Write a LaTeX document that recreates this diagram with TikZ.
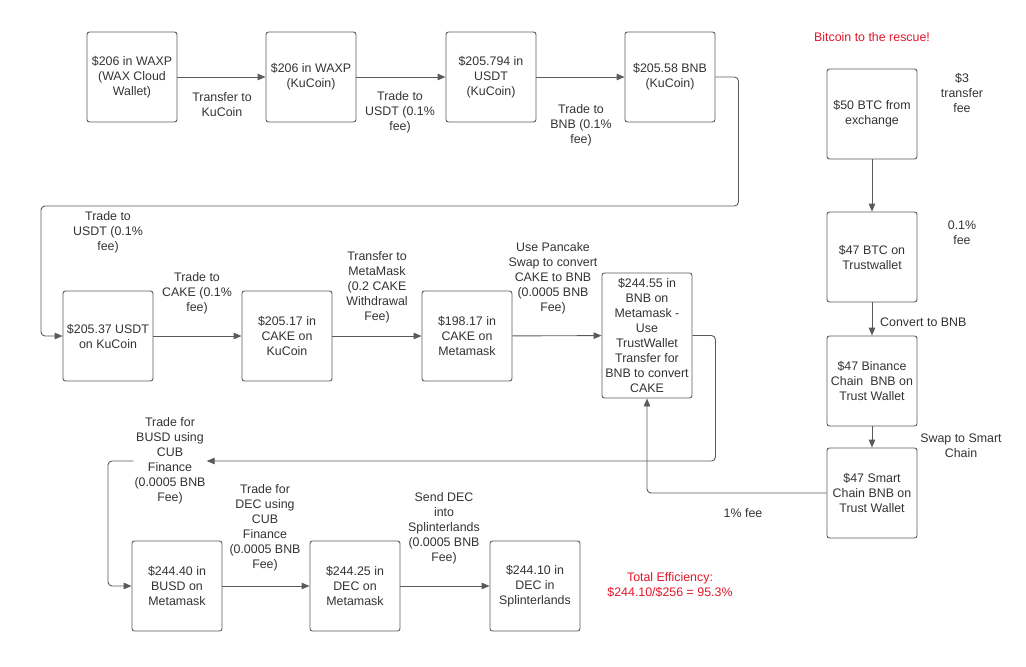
\documentclass[tikz,border=0pt]{standalone}
\usepackage{fontspec}
\setmainfont{Liberation Sans}
\usetikzlibrary{arrows.meta}

\definecolor{inkgray}{HTML}{333333}
\definecolor{linegray}{HTML}{5A5A5A}
\definecolor{alertred}{HTML}{E3162B}

\tikzset{
  box/.style={draw=linegray, line width=0.9pt, rounded corners=2.5pt, minimum width=90pt,
    minimum height=90pt, align=center, text=inkgray, inner sep=0pt},
  tall/.style={minimum height=125pt},
  lbl/.style={align=center, text=inkgray, inner sep=1pt},
  redlbl/.style={align=center, text=alertred, inner sep=1pt},
  conn/.style={draw=linegray, line width=0.9pt, rounded corners=4pt,
    -{Triangle[length=8pt,width=6.5pt]}},
  plain/.style={draw=linegray, line width=0.9pt, rounded corners=4pt}
}

\begin{document}
\begin{tikzpicture}[x=1pt, y=-1pt, font=\fontsize{12.4}{15}\selectfont]
    % keep the page the size of the picture
    \useasboundingbox (0,0) rectangle (1026,667);

    % Top row: WAXP to BNB on KuCoin
    \node[box] (waxc) at (132,77) {\$206 in WAXP\\(WAX Cloud\\Wallet)};
    \node[box] (waxk) at (311,77) {\$206 in WAXP\\(KuCoin)};
    \node[box] (usdtk1) at (491,77) {\$205.794 in\\USDT\\(KuCoin)};
    \node[box] (bnbk) at (670,77) {\$205.58 BNB\\(KuCoin)};

    % Middle row: back to USDT, then CAKE
    \node[box] (usdtk) at (108,336) {\$205.37 USDT\\on KuCoin};
    \node[box] (cakek) at (287,336) {\$205.17 in\\CAKE on\\KuCoin};
    \node[box] (cakem) at (467,336) {\$198.17 in\\CAKE on\\Metamask};
    \node[box, tall] (bnbcm) at (647,335.5) {\$244.55 in\\BNB on\\Metamask -\\Use\\TrustWallet\\Transfer for\\BNB to convert\\CAKE};

    % Bottom row: BUSD and DEC
    \node[box] (busd) at (177,586) {\$244.40 in\\BUSD on\\Metamask};
    \node[box] (decm) at (355,586) {\$244.25 in\\DEC on\\Metamask};
    \node[box] (decs) at (535,586) {\$244.10 in\\DEC in\\Splinterlands};

    % Right column: the bitcoin detour
    \node[box] (btc) at (872,114) {\$50 BTC from\\exchange};
    \node[box] (trustbtc) at (872,257) {\$47 BTC on\\Trustwallet};
    \node[box] (bnbtw) at (872,381) {\$47 Binance\\Chain\ \ BNB on\\Trust Wallet};
    \node[box] (smart) at (872,493) {\$47 Smart\\Chain BNB on\\Trust Wallet};

    % Connector labels
    \node[lbl] (lblkucoin) at (222,104.5) {Transfer to\\KuCoin};
    \node[lbl] (lblusdt) at (400,112.5) {Trade to\\USDT (0.1\%\\fee)};
    \node[lbl] (lblbnb) at (581,125) {Trade to\\BNB (0.1\%\\fee)};
    \node[lbl] (lblusdtb) at (108,232) {Trade to\\USDT (0.1\%\\fee)};
    \node[lbl] (lblcake) at (197,293.5) {Trade to\\CAKE (0.1\%\\fee)};
    \node[lbl] (lblmeta) at (377,287) {Transfer to\\MetaMask\\(0.2 CAKE\\Withdrawal\\Fee)};
    \node[lbl] (lblswap) at (553,278.5) {Use Pancake\\Swap to convert\\CAKE to BNB\\(0.0005 BNB\\Fee)};
    \node[lbl] (busdlbl) at (170,461) {Trade for\\BUSD using\\CUB\\Finance\\(0.0005 BNB\\Fee)};
    \node[lbl] (lbldec) at (265,527.5) {Trade for\\DEC using\\CUB\\Finance\\(0.0005 BNB\\Fee)};
    \node[lbl] (lblsend) at (444,528) {Send DEC\\into\\Splinterlands\\(0.0005 BNB\\Fee)};
    \node[lbl] (lblthree) at (962,93) {\$3\\transfer\\fee};
    \node[lbl] (lblpoint) at (962,232.5) {0.1\%\\fee};
    \node[lbl, anchor=west] (lblconv) at (879,322) {Convert to BNB};
    \node[lbl] (lblsmart) at (961,445.5) {Swap to Smart\\Chain};
    \node[lbl] (lblone) at (743,513) {1\% fee};

    % Red notes
    \node[redlbl] (rescue) at (872,37) {Bitcoin to the rescue!};
    \node[redlbl] (total) at (670,584.5) {Total Efficiency:\\\$244.10/\$256 = 95.3\%};

    % Straight connectors
    \draw[conn] (waxc) -- (waxk);
    \draw[conn] (waxk) -- (usdtk1);
    \draw[conn] (usdtk1) -- (bnbk);
    \draw[conn] (usdtk) -- (cakek);
    \draw[conn] (cakek) -- (cakem);
    \draw[conn] (cakem) -- (bnbcm);
    \draw[conn] (busd) -- (decm);
    \draw[conn] (decm) -- (decs);
    \draw[conn] (btc) -- (trustbtc);
    \draw[conn] (trustbtc) -- (bnbtw);
    \draw[conn] (bnbtw) -- (smart);

    % Elbow connectors
    \draw[conn] (bnbk.east) -- ++(23,0) |- (41,206) |- (usdtk.west);
    \draw[conn] (bnbcm.east) -- ++(23,0) |- (busdlbl.east);
    \draw[conn] (busdlbl.west) -- (108,461) |- (busd.west);
    \draw[conn] (smart.west) -| (bnbcm.south);
\end{tikzpicture}
\end{document}
